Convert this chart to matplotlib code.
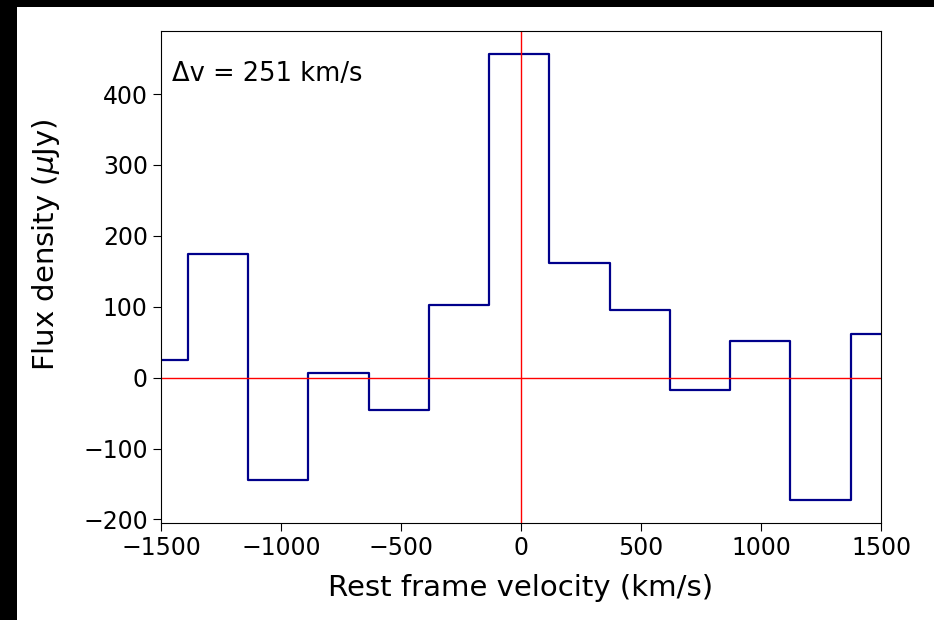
import numpy as np
import matplotlib.pyplot as plt
from matplotlib.patches import Rectangle

# binned spectrum, channel width 251 km/s
dv = 251
vel = np.array([-1513, -1262, -1011, -760, -509, -258, -7, 244, 495, 746, 997, 1248, 1499])
flux = np.array([25, 174, -145, 7, -45, 103, 457, 162, 95, -17, 52, -172, 61])

fig = plt.figure(figsize=(9.34, 6.2), dpi=100, facecolor='black')
fig.patches.append(Rectangle((17 / 934, 0), 1, 1 - 7 / 620, transform=fig.transFigure,
                             facecolor='white', edgecolor='none', zorder=-1))
ax = fig.add_axes([161 / 934, 1 - 523 / 620, 720 / 934, 492 / 620])

ax.plot(vel, flux, drawstyle='steps-mid', color='darkblue', lw=1.6)
ax.axhline(0, color='red', lw=1)
ax.axvline(0, color='red', lw=1)

ax.set_xlim(-1500, 1500)
ax.set_ylim(-205, 489)
ax.set_xticks([-1500, -1000, -500, 0, 500, 1000, 1500])
ax.tick_params(labelsize=17, length=6)
ax.set_xlabel('Rest frame velocity (km/s)', fontsize=21, labelpad=10)
ax.set_ylabel(r'Flux density ($\mu$Jy)', fontsize=21)
ax.yaxis.set_label_coords(-0.137, 0.565)
ax.text(0.015, 0.94, f'Δv = {dv} km/s', transform=ax.transAxes, fontsize=18.5, va='top')

fig.savefig('out.png', dpi=100, facecolor=fig.get_facecolor())
